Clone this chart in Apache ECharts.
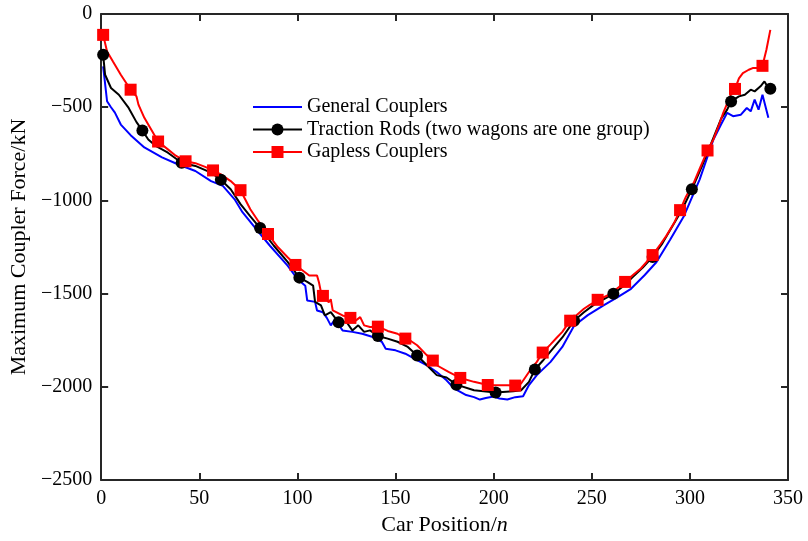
<!DOCTYPE html>
<html>
<head>
<meta charset="utf-8">
<script src="https://cdn.jsdelivr.net/npm/echarts@6/dist/echarts.min.js"></script>
<style>html,body{margin:0;padding:0;background:#fff;}#c{width:808px;height:541px;}</style>
</head>
<body>
<div id="c"></div>
<script>
// ---- data (car position / maximum coupler force kN) ----
const genX = [1,3,5,7,10,15,22,31,39,48,56,62,68,72,79,86,95,100,104,105,109,110,113,115,117,119,120,123,128,133,138,143,145,150,155,161,166,171,176,180,186,190,193,196,200,203,207,211,215,218,222,229,235,241,248,256,263,270,277,283,290,297,305,312,316,319,322,326,329,331,333,335,337,340];
const genY = [-281,-468,-500,-529,-593,-650,-716,-769,-806,-842,-896,-922,-994,-1063,-1154,-1243,-1350,-1421,-1457,-1537,-1544,-1590,-1600,-1630,-1670,-1640,-1651,-1697,-1705,-1715,-1731,-1758,-1795,-1804,-1822,-1857,-1884,-1920,-1965,-2010,-2044,-2055,-2068,-2060,-2052,-2062,-2068,-2055,-2050,-1990,-1937,-1866,-1786,-1672,-1615,-1563,-1520,-1474,-1400,-1330,-1210,-1083,-887,-673,-590,-530,-548,-540,-504,-522,-459,-513,-433,-556];

const rodX = [1,2,5,9,14,18,21,24,28,34,41,48,56,61,66,71,76,81,88,95,101,105,108,109,112,114,117,121,125,128,131,134,137,141,146,151,156,161,166,171,176,181,190,201,210,214,218,221,225,229,235,241,246,251,256,261,266,271,276,281,286,291,296,301,306,311,316,319,321,325,328,331,333,336,338,340,341];
const rodY = [-219,-326,-397,-433,-504,-580,-625,-673,-709,-744,-798,-815,-851,-889,-940,-1020,-1085,-1148,-1243,-1330,-1414,-1437,-1457,-1544,-1563,-1617,-1599,-1654,-1652,-1697,-1670,-1705,-1697,-1727,-1741,-1758,-1784,-1832,-1884,-1937,-1950,-1988,-2018,-2030,-2023,-2018,-1973,-1907,-1860,-1810,-1735,-1645,-1600,-1560,-1530,-1501,-1460,-1410,-1360,-1303,-1230,-1140,-1050,-940,-820,-690,-560,-513,-469,-442,-433,-406,-415,-388,-362,-397,-401];
const rodMarkers = [1,21,41,61,81,101,121,141,161,181,201,221,241,261,281,301,321,341];

const gapX = [1,3,6,10,15,18,19,22,26,29,34,38,43,48,53,57,61,66,71,76,80,85,90,95,99,102,106,110,111,112,113,116,117,118,120,123,127,129,132,134,137,141,144,146,151,155,158,161,166,169,171,177,183,190,197,204,207,211,214,218,222,225,229,232,235,239,246,249,251,253,258,262,267,271,275,281,285,288,292,295,298,302,305,309,312,315,317,321,323,325,327,330,332,336,337,339,341];
const gapY = [-112,-201,-255,-326,-406,-442,-486,-557,-629,-684,-726,-760,-790,-800,-820,-839,-860,-896,-945,-1047,-1110,-1180,-1250,-1305,-1346,-1370,-1403,-1403,-1440,-1492,-1512,-1546,-1530,-1590,-1600,-1617,-1630,-1650,-1626,-1670,-1679,-1677,-1690,-1700,-1715,-1741,-1755,-1777,-1831,-1859,-1884,-1920,-1952,-1973,-1990,-1991,-1991,-1993,-1982,-1920,-1866,-1816,-1772,-1738,-1705,-1645,-1581,-1560,-1548,-1533,-1510,-1480,-1437,-1400,-1365,-1293,-1235,-1190,-1120,-1052,-980,-904,-830,-732,-673,-590,-530,-430,-402,-345,-317,-299,-290,-290,-278,-192,-85];
const gapMarkers = [1,15,29,43,57,71,85,99,113,127,141,155,169,183,197,211,225,239,253,267,281,295,309,323,337];

const seriesNames = ['General Couplers','Traction Rods (two wagons are one group)','Gapless Couplers'];
const xTicks = [0,50,100,150,200,250,300,350];
const yTicks = [-2500,-2000,-1500,-1000,-500,0];

function build(xs, ys, markers, sym) {
  return xs.map((x, i) => {
    const item = { value: [x, ys[i]] };
    if (!markers || markers.indexOf(x) < 0) item.symbol = 'none';
    else item.symbol = sym;
    return item;
  });
}

const FONT = 'Liberation Serif';
const fmtY = v => (v < 0 ? '\u2212' + Math.abs(v) : String(v));

const baseAxis = {
  axisLine: { show: true, onZero: false, lineStyle: { color: '#262626', width: 2 } },
  axisTick: { show: true, inside: true, length: 7, lineStyle: { color: '#262626', width: 2 } },
  splitLine: { show: false }
};

const chart = echarts.init(document.getElementById('c'), null, { renderer: 'canvas' });
chart.setOption({
  animation: false,
  backgroundColor: '#fff',
  textStyle: { fontFamily: FONT },
  grid: { left: 101, right: 20, top: 14, bottom: 59, containLabel: false },
  legend: {
    orient: 'vertical',
    left: 247,
    top: 91,
    itemWidth: 49,
    itemHeight: 15,
    itemGap: 0.5,
    symbolKeepAspect: true,
    data: [
      { name: seriesNames[0], icon: 'path://M0,0h48v2h-48z' },
      { name: seriesNames[1] },
      { name: seriesNames[2] }
    ],
    textStyle: { fontFamily: FONT, fontSize: 20, color: '#000', lineHeight: 22 }
  },
  xAxis: [
    Object.assign({}, baseAxis, {
      type: 'value', min: xTicks[0], max: xTicks[xTicks.length - 1], interval: 50,
      position: 'bottom',
      axisLabel: { fontFamily: FONT, fontSize: 20, color: '#000', margin: 9 },
      name: 'Car Position/{i|n}', nameLocation: 'middle', nameGap: 29,
      nameTextStyle: { fontFamily: FONT, fontSize: 22, color: '#000', rich: { i: { fontFamily: FONT, fontSize: 22, fontStyle: 'italic', color: '#000' } } }
    }),
    Object.assign({}, baseAxis, {
      type: 'value', min: xTicks[0], max: xTicks[xTicks.length - 1], interval: 50,
      position: 'top', axisLabel: { show: false }
    })
  ],
  yAxis: [
    Object.assign({}, baseAxis, {
      type: 'value', min: yTicks[0], max: yTicks[yTicks.length - 1], interval: 500,
      position: 'left',
      axisLabel: { fontFamily: FONT, fontSize: 20, color: '#000', margin: 9, formatter: fmtY },
      name: 'Maximum Coupler Force/kN', nameLocation: 'middle', nameGap: 68,
      nameTextStyle: { fontFamily: FONT, fontSize: 22, color: '#000' }
    }),
    Object.assign({}, baseAxis, {
      type: 'value', min: yTicks[0], max: yTicks[yTicks.length - 1], interval: 500,
      position: 'right', axisLabel: { show: false }
    })
  ],
  series: [
    {
      name: seriesNames[0], type: 'line', xAxisIndex: 0, yAxisIndex: 0,
      symbol: 'none', showSymbol: false,
      lineStyle: { color: '#0000FF', width: 2 }, itemStyle: { color: '#0000FF' },
      data: build(genX, genY, null, 'none')
    },
    {
      name: seriesNames[1], type: 'line', xAxisIndex: 0, yAxisIndex: 0,
      symbol: 'circle', symbolSize: 12, showSymbol: true, showAllSymbol: true,
      lineStyle: { color: '#000000', width: 2 }, itemStyle: { color: '#000000' },
      data: build(rodX, rodY, rodMarkers, 'circle')
    },
    {
      name: seriesNames[2], type: 'line', xAxisIndex: 0, yAxisIndex: 0,
      symbol: 'rect', symbolSize: 12, showSymbol: true, showAllSymbol: true,
      lineStyle: { color: '#FF0000', width: 2 }, itemStyle: { color: '#FF0000' },
      data: build(gapX, gapY, gapMarkers, 'rect')
    }
  ]
});
</script>
</body>
</html>
